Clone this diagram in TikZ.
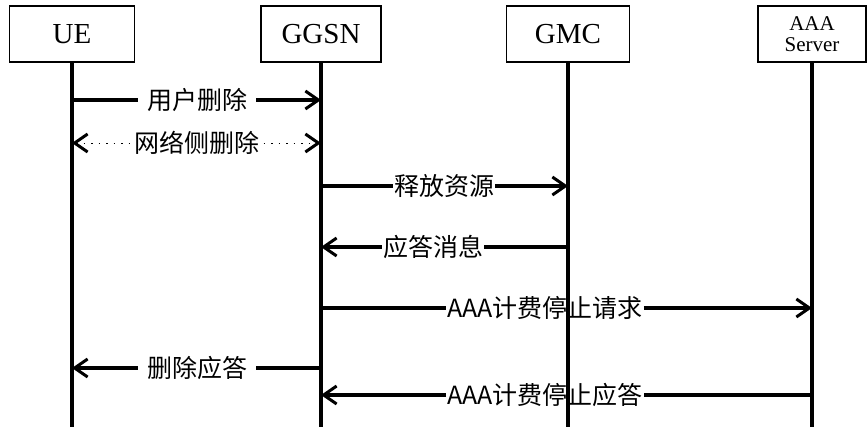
\documentclass[tikz,border=0pt]{standalone}
\usepackage{fontspec}
\setmainfont{Liberation Serif}
\newfontfamily\cjk{Noto Sans CJK SC}
\usetikzlibrary{arrows.meta}

\begin{document}
\begin{tikzpicture}[x=1pt, y=-1pt]
    \tikzset{
        instanz/.style={draw, line width=1.3pt, minimum height=56pt, inner sep=0pt, align=center},
        lebenslinie/.style={line width=3.4pt},
        nachricht/.style={line width=3.4pt},
        punktiert/.style={line width=1pt, dash pattern=on 1.5pt off 6pt},
        spitze/.style={-{Straight Barb[length=13pt, width=18pt, line width=3pt]}},
        spitzelinks/.style={{Straight Barb[length=13pt, width=18pt, line width=3pt]}-},
        beschriftung/.style={font=\cjk\fontsize{25}{27}\selectfont, inner ysep=1pt}
    }
    \useasboundingbox (0,0) rectangle (868,431);

    % --- Instanzen und Lebenslinien ---
    \foreach \name / \x / \breite / \gr / \titel in {ue/72/125/29/UE, ggsn/321/120/29/GGSN, gmc/568/123/29/GMC, aaa/812/108/21/AAA\\Server} {
        \node[instanz, minimum width=\breite pt, font=\fontsize{\gr}{\gr}\selectfont] (\name) at (\x,34) {\titel};
        \draw[lebenslinie] (\name.south) -- (\name |- 0,427);
    }

    % --- Nachrichten ---
    \foreach \y / \von / \nach / \lx / \beschr / \ein / \aus / \abstand in {
        100/ue/ggsn/197/用户删除/west/east/9pt,
        186/ggsn/gmc/444/释放资源/west/east/1pt,
        247/gmc/ggsn/433/应答消息/east/west/1pt,
        308/ggsn/aaa/545/AAA计费停止请求/west/east/1pt,
        368/ggsn/ue/197/删除应答/east/west/9pt,
        395/aaa/ggsn/545/AAA计费停止应答/east/west/1pt} {
        \node[beschriftung, inner xsep=\abstand] (n-\y) at (\lx,\y) {\beschr};
        \draw[nachricht] (\von |- 0,\y) -- (n-\y.\ein);
        \draw[nachricht, spitze] (n-\y.\aus) -- (\nach |- 0,\y);
    }

    % Netzseitiges Loeschen (punktiert, beidseitig)
    \node[beschriftung, inner xsep=4pt] (netz) at (197,143) {网络侧删除};
    \draw[punktiert, spitzelinks] (ue |- netz) -- (netz.west);
    \draw[punktiert, spitze] (netz.east) -- (ggsn |- netz);
\end{tikzpicture}
\end{document}
